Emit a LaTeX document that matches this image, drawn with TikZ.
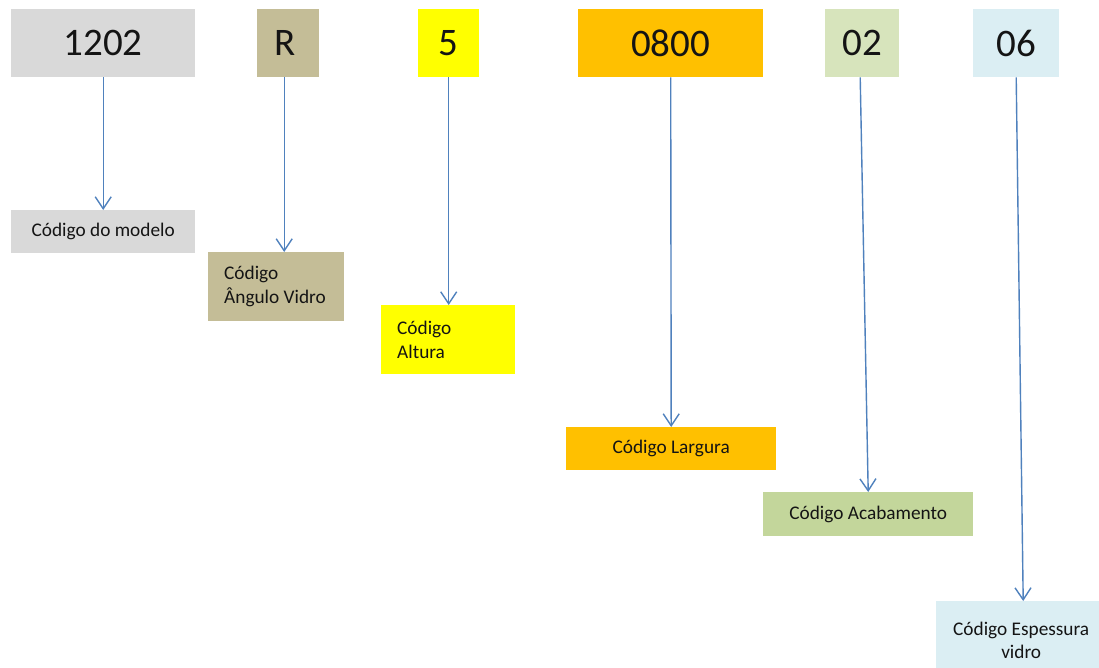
\documentclass[tikz,border=0pt]{standalone}
\usepackage{fontspec}
\setmainfont{Carlito}
\usetikzlibrary{arrows.meta}
\definecolor{cgray}{HTML}{D9D9D9}
\definecolor{ctan}{HTML}{C4BD97}
\definecolor{cyel}{HTML}{FFFF00}
\definecolor{corange}{HTML}{FFC000}
\definecolor{cgreen}{HTML}{D7E4BC}
\definecolor{cgreentwo}{HTML}{C3D69B}
\definecolor{cblue}{HTML}{DBEEF3}
\definecolor{arrowblue}{HTML}{4F81BD}
\definecolor{txt}{HTML}{141414}
\tikzset{
  numbox/.style={rectangle, inner sep=0pt, anchor=north west, minimum height=68pt, text=txt,
    font=\fontsize{39}{47}\selectfont},
  labbox/.style={rectangle, anchor=north west, inner ysep=0pt, text=txt,
    font=\fontsize{19.3}{24.5}\selectfont},
  conn/.style={draw=arrowblue, line width=1.4pt,
    -{Straight Barb[length=12pt,width=16pt,line width=1.4pt]}}
}
\begin{document}
\begin{tikzpicture}[x=1pt,y=-1pt]
\useasboundingbox (0,0) rectangle (1099,667);
\clip (0,0) rectangle (1099,667);
\fill[white] (0,0) rectangle (1099,667);
% top code boxes
\node[numbox, fill=cgray, minimum width=184pt] (t1202) at (11,9) {1202};
\node[numbox, fill=ctan, minimum width=62pt] (tR) at (257,9) {\hspace*{-7pt}R};
\node[numbox, fill=cyel, minimum width=61pt] (t5) at (418,9) {5};
\node[numbox, fill=corange, minimum width=185pt] (t0800) at (578,9) {0800};
\node[numbox, fill=cgreen, minimum width=74pt] (t02) at (825,9) {02};
\node[numbox, fill=cblue, minimum width=86pt] (t06) at (973,9) {06};
% label boxes
\node[labbox, fill=cgray, minimum width=184pt, minimum height=43pt] (l1202) at (11,210) {Código do modelo};
\node[labbox, fill=ctan, inner xsep=16pt, minimum height=69pt] (lR) at (208,252)
  {\parbox{104pt}{\raggedright Código\\Ângulo Vidro}};
\node[labbox, fill=cyel, inner xsep=16pt, minimum height=69pt] (l5) at (381,305)
  {\parbox{102pt}{\raggedright Código\\Altura}};
\node[labbox, fill=corange, minimum width=210pt, minimum height=43pt] (l0800) at (566,427) {Código Largura};
\node[labbox, fill=cgreentwo, minimum width=210pt, minimum height=44pt] (l02) at (763,492) {Código Acabamento};
\node[labbox, fill=cblue, inner xsep=10pt, minimum height=78pt,
  font=\fontsize{19.3}{23}\selectfont] (l06) at (936,601)
  {\parbox{150pt}{\centering Código Espessura\\vidro}};
% connectors
\draw[conn] (t1202.south) -- (l1202.north);
\draw[conn] ([xshift=-4pt]tR.south) -- ([xshift=-4pt]tR.south |- lR.north);
\draw[conn] (t5.south) -- (t5.south |- l5.north);
\draw[conn] (t0800.south) -- (l0800.north);
\draw[conn] ([xshift=-2pt]t02.south) -- (l02.north);
\draw[conn] (t06.south) -- ([xshift=2pt]l06.north);
\end{tikzpicture}
\end{document}
